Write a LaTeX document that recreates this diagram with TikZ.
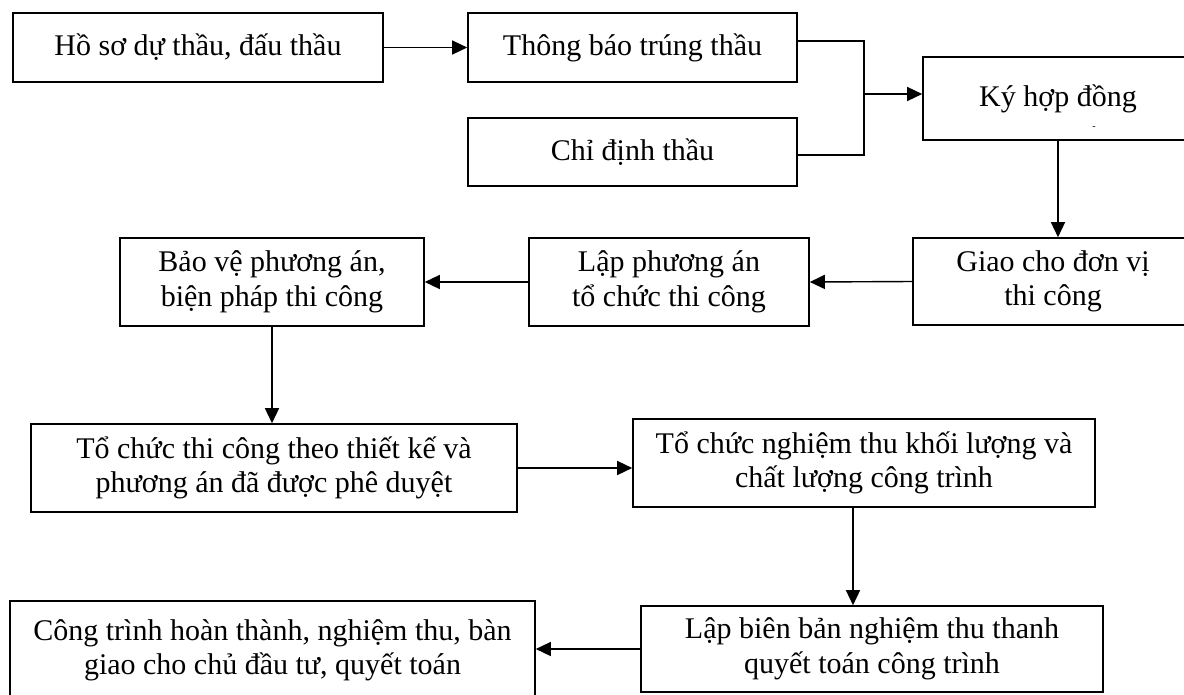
\documentclass[tikz,border=0pt]{standalone}
\usepackage{fontspec}
\setmainfont{Liberation Serif}
\usetikzlibrary{arrows.meta}

\begin{document}
\begin{tikzpicture}[x=1pt, y=-1pt,
          stage/.style={draw=black, line width=1.6pt, align=center, inner sep=0pt,
                        font=\fontsize{30}{34.5}\selectfont},
          link/.style={line width=1.4pt},
          flow/.style={link, -{Triangle[length=15pt,width=14pt]}},
        ]
        \useasboundingbox (0, 0) rectangle (1184, 694);

        \node[stage, minimum width=370, minimum height=69] (hoso)      at (198, 47.5)  {Hồ sơ dự thầu, đấu thầu};
        \node[stage, minimum width=329, minimum height=69] (thongbao)  at (632.5, 47.5) {Thông báo trúng thầu};
        \node[stage, minimum width=329, minimum height=68] (chidinh)   at (632.5, 152) {Chỉ định thầu};
        \node[stage, minimum width=270, minimum height=83] (kyhd)      at (1058, 98.5) {\raisebox{6pt}{Ký hợp đồng}};
        \node[stage, minimum width=280, minimum height=87] (giao)      at (1053, 281.5) {Giao cho đơn vị\\thi công};
        \node[stage, minimum width=280, minimum height=88] (lappa)     at (669, 282)   {Lập phương án\\tổ chức thi công};
        \node[stage, minimum width=304, minimum height=88] (baove)     at (272, 282)   {Bảo vệ phương án,\\biện pháp thi công};
        \node[stage, minimum width=486, minimum height=88] (thicong)   at (274, 468)   {Tổ chức thi công theo thiết kế và\\phương án đã được phê duyệt};
        \node[stage, minimum width=462, minimum height=88] (nghiemthu) at (864, 463)   {Tổ chức nghiệm thu khối lượng và\\chất lượng công trình};
        \node[stage, minimum width=462, minimum height=86] (bienban)   at (872, 649)   {Lập biên bản nghiệm thu thanh\\quyết toán công trình};
        \node[stage, minimum width=525, minimum height=99] (hoanthanh) at (272.5, 650.5) {\raisebox{8pt}{\begin{tabular}{@{}c@{}}Công trình hoàn thành, nghiệm thu, bàn\\giao cho chủ đầu tư, quyết toán\end{tabular}}};
        \node[font=\fontsize{10}{10}\selectfont, inner sep=0pt] (vet) at (1094, 128) {-};

        \coordinate (gop) at (864, 94);

        \draw[flow] (hoso.east) -- (thongbao.west);
        \draw[link] ([yshift=6.5pt]thongbao.east) -| (gop);
        \draw[link] ([yshift=-3pt]chidinh.east) -| (gop);
        \draw[flow] (gop) -- (gop -| kyhd.west);
        \draw[flow] (kyhd.south) -- (kyhd.south |- giao.north);
        \draw[flow] (giao.west) -- (lappa.east);
        \draw[flow] (lappa.west) -- (baove.east);
        \draw[flow] (baove.south) -- (baove.south |- thicong.north);
        \draw[flow] (thicong.east) -- (thicong.east -| nghiemthu.west);
        \draw[flow] ([xshift=-11pt]nghiemthu.south) -- ([xshift=-11pt]nghiemthu.south |- bienban.north);
        \draw[flow] (bienban.west) -- (bienban.west -| hoanthanh.east);
      \end{tikzpicture}
\end{document}
